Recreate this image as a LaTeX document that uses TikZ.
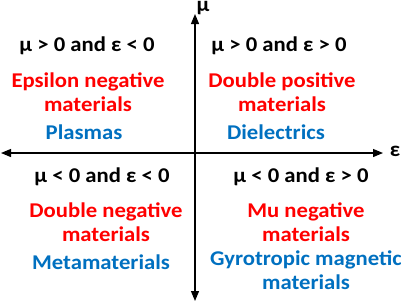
\documentclass[tikz,border=0pt]{standalone}
\usepackage{fontspec}
\setmainfont{Carlito}[FakeStretch=1.08]
\usetikzlibrary{arrows.meta}
\definecolor{tred}{RGB}{255,0,0}
\definecolor{tblue}{RGB}{0,112,192}
\tikzset{
  lbl/.style={font=\fontsize{21}{23.5}\selectfont\bfseries, align=center, inner sep=0pt},
  cond/.style={lbl, text=black},
  kind/.style={lbl, text=tred},
  ex/.style={lbl, text=tblue},
  axis/.style={line width=1.2pt, {Triangle[length=10pt,width=8pt]}-{Triangle[length=10pt,width=8pt]}},
}
\begin{document}
\begin{tikzpicture}[x=1pt,y=-1pt]
\useasboundingbox (0,0) rectangle (401,303);
% axes
\coordinate (ytop) at (195,14);
\coordinate (ybot) at (195,301);
\coordinate (xl) at (1,153);
\coordinate (xr) at (383,153);
\draw[axis] (xl) -- (xr);
\draw[axis] (ybot) -- (ytop);
\node[cond, anchor=base] (mu) at (203,11) {μ};
\node[cond, anchor=base] (eps) at (395,156) {ε};
% top-left
\node[cond] (c1) at (87,46) {μ > 0 and ε < 0};
\node[kind] (k1) at (88,92) {Epsilon negative\\materials};
\node[ex] (e1) at (84,132) {Plasmas};
% top-right
\node[cond] (c2) at (279,46) {μ > 0 and ε > 0};
\node[kind] (k2) at (282,92) {Double positive\\materials};
\node[ex] (e2) at (276,132) {Dielectrics};
% bottom-left
\node[cond] (c3) at (102,177) {μ < 0 and ε < 0};
\node[kind] (k3) at (106,222) {Double negative\\materials};
\node[ex] (e3) at (101,262) {Metamaterials};
% bottom-right
\node[cond] (c4) at (301,177) {μ < 0 and ε > 0};
\node[kind] (k4) at (306,222) {Mu negative\\materials};
\node[ex] (e4) at (306,270) {Gyrotropic magnetic\\materials};
\end{tikzpicture}
\end{document}
